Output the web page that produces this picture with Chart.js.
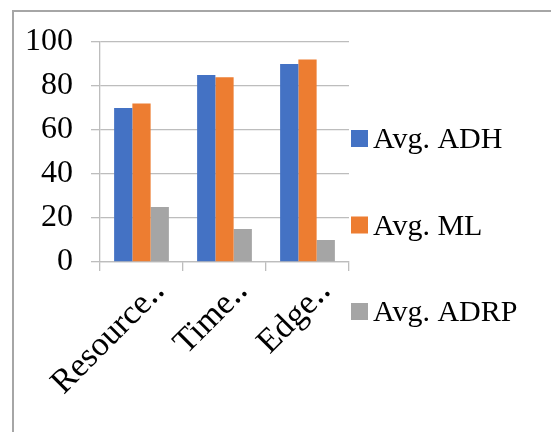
<!DOCTYPE html>
<html>
<head>
<meta charset="utf-8">
<script src="https://cdn.jsdelivr.net/npm/chart.js@4.4.1/dist/chart.umd.min.js"></script>
<style>
  body { margin: 0; background: #fff; overflow: hidden; }
  #frame { position: absolute; left: 12px; top: 10px; width: 600px; height: 500px; border: 2px solid #a6a6a6; }
  #c { position: absolute; left: 0; top: 0; }
</style>
</head>
<body>
<div id="frame"></div>
<canvas id="c" width="551" height="432"></canvas>
<script>
// chart data (category names are cut short in the original)
const categories = ['Resource\u2025', 'Time\u2025', 'Edge\u2025'];
const seriesNames = ['Avg. ADH', 'Avg. ML', 'Avg. ADRP'];
const adh = [70, 85, 90];
const ml = [72, 84, 92];
const adrp = [25, 15, 10];
const colors = ['#4472C4', '#ED7D31', '#A5A5A5'];

const serif = 'Liberation Serif, Times New Roman, serif';
const gridColor = '#bdbdbd';

// legend drawn at the right like the original (squares + text)
const sideLegend = {
  id: 'sideLegend',
  afterDraw(chart) {
    const ctx = chart.ctx;
    ctx.save();
    ctx.font = '30px ' + serif;
    ctx.textBaseline = 'alphabetic';
    ctx.textAlign = 'left';
    chart.data.datasets.forEach((ds, i) => {
      const top = 130 + i * 86.5;
      ctx.fillStyle = ds.backgroundColor;
      ctx.fillRect(351, top, 17, 17);
      ctx.fillStyle = '#000';
      ctx.fillText(ds.label, 373, top + 18);
    });
    ctx.restore();
  }
};

new Chart(document.getElementById('c'), {
  type: 'bar',
  data: {
    labels: categories,
    datasets: [
      { label: seriesNames[0], data: adh, backgroundColor: colors[0] },
      { label: seriesNames[1], data: ml, backgroundColor: colors[1] },
      { label: seriesNames[2], data: adrp, backgroundColor: colors[2] }
    ]
  },
  options: {
    responsive: false,
    animation: false,
    datasets: { bar: { categoryPercentage: 0.66, barPercentage: 1.0 } },
    layout: { padding: { left: 0, top: 42, right: 202, bottom: 0 } },
    plugins: { legend: { display: false }, tooltip: { enabled: false } },
    scales: {
      x: {
        afterFit(s) { s.height = 170; },
        grid: { drawOnChartArea: false, drawTicks: true, tickLength: 9, color: gridColor, lineWidth: 1.3 },
        border: { display: true, color: gridColor, width: 1.3 },
        ticks: {
          minRotation: 45, maxRotation: 45, labelOffset: 18, padding: 1,
          color: '#000', font: { family: serif, size: 34 }
        }
      },
      y: {
        min: 0, max: 100,
        afterFit(s) { s.width = 100; },
        grid: { color: gridColor, tickLength: 9, lineWidth: 1.3 },
        border: { display: true, color: gridColor, width: 1.3 },
        ticks: { stepSize: 20, padding: 18, color: '#000', font: { family: serif, size: 32 } }
      }
    }
  },
  plugins: [sideLegend]
});
</script>
</body>
</html>
